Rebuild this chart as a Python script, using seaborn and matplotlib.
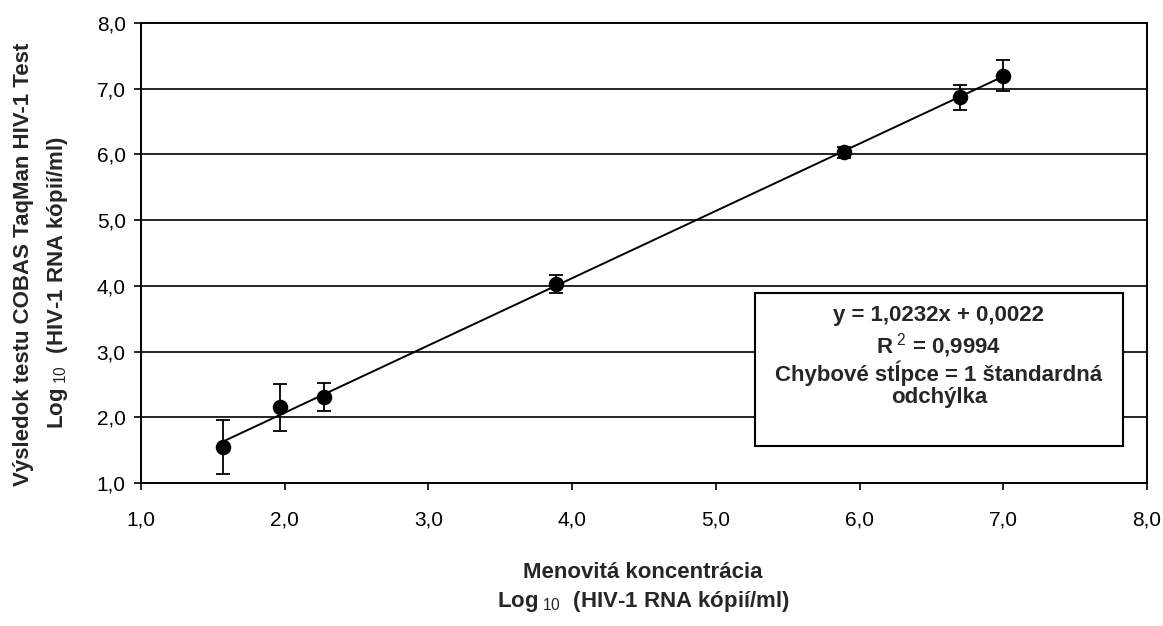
import matplotlib
matplotlib.use("Agg")
import matplotlib.pyplot as plt
import matplotlib.patches as mpatches
from matplotlib.ticker import FuncFormatter
import seaborn as sns
import pandas as pd

# ---- data ----
nominal = [1.57, 1.97, 2.27, 3.89, 5.89, 6.70, 7.00]
measured = [1.55, 2.15, 2.31, 4.03, 6.03, 6.87, 7.20]
sd = [0.41, 0.36, 0.21, 0.14, 0.09, 0.19, 0.23]
tick_values = [1, 2, 3, 4, 5, 6, 7, 8]

eq_text = "y = 1,0232x + 0,0022"
r2_text = r"R$^{\ 2}$ = 0,9994"
err_text1 = "Chybové stĺpce = 1 štandardná"
err_text2 = "odchýlka"
xlab1 = "Menovitá koncentrácia"
xlab2 = r"$\mathbf{Log}_{\ 10}\ $ (HIV-1 RNA kópií/ml)"
ylab1 = "Výsledok testu COBAS TaqMan HIV-1 Test"
ylab2 = r"$\mathbf{Log}_{\ 10}\ $ (HIV-1 RNA kópií/ml)"

df = pd.DataFrame({"nominal": nominal, "measured": measured, "sd": sd})

sns.set_style("white")
plt.rcParams["font.family"] = ["Liberation Sans", "DejaVu Sans"]
plt.rcParams["mathtext.fontset"] = "custom"
plt.rcParams["mathtext.rm"] = "Liberation Sans"
plt.rcParams["mathtext.bf"] = "Liberation Sans:bold"
plt.rcParams["mathtext.it"] = "Liberation Sans:italic"

W, H = 1163, 626
fig = plt.figure(figsize=(W / 100, H / 100), dpi=100)
L, R, T, B = 141, 1147, 23, 483
ax = fig.add_axes([L / W, 1 - B / H, (R - L) / W, (B - T) / H])

def fx(px):
    return px / W

def fy(py):
    return 1 - py / H

# grid lines
for v in tick_values[1:-1]:
    ax.axhline(v, color="black", lw=1.2, zorder=1)

# regression line
sns.regplot(data=df, x="nominal", y="measured", ax=ax, scatter=False, ci=None,
            truncate=True, line_kws={"color": "black", "lw": 1.4, "zorder": 3})

# error bars
ax.errorbar(df["nominal"], df["measured"], yerr=df["sd"], fmt="none",
            ecolor="black", elinewidth=1.3, capsize=5, capthick=1.3, zorder=4)

# points
sns.scatterplot(data=df, x="nominal", y="measured", ax=ax, color="black",
                s=125, edgecolor="black", linewidth=0, zorder=5, legend=False)

ax.set_xlim(1, 8)
ax.set_ylim(1, 8)
ax.set_xticks(tick_values)
ax.set_yticks(tick_values)
fmt = FuncFormatter(lambda v, p: f"{v:.1f}".replace(".", ","))
ax.xaxis.set_major_formatter(fmt)
ax.yaxis.set_major_formatter(fmt)
ax.tick_params(axis="x", direction="out", length=5, width=1.2, pad=15,
               labelsize=15, colors="black", bottom=True)
ax.tick_params(axis="y", direction="out", length=5, width=1.2, pad=6,
               labelsize=15, colors="black", left=True)
ax.set_xlabel("")
ax.set_ylabel("")
for s in ax.spines.values():
    s.set_visible(True)
    s.set_color("black")
    s.set_linewidth(1.4)

# text box
box = mpatches.Rectangle((fx(755), fy(446)), fx(1123) - fx(755), fy(293) - fy(446),
                         transform=fig.transFigure, facecolor="white",
                         edgecolor="black", lw=1.5, zorder=6, clip_on=False)
ax.add_patch(box)
cx = fx(939)
fs = 16
fig.text(cx, fy(315), eq_text, ha="center", va="center", fontsize=fs,
         fontweight="bold", zorder=7)
fig.text(cx, fy(346), r2_text, ha="center", va="center", fontsize=fs,
         fontweight="bold", zorder=7)
fig.text(cx, fy(373), err_text1, ha="center", va="center", fontsize=fs,
         fontweight="bold", zorder=7)
fig.text(cx, fy(398), err_text2, ha="center", va="center", fontsize=fs,
         fontweight="bold", zorder=7)

# axis labels
fig.text(fx(643), fy(573), xlab1, ha="center", va="center", fontsize=fs,
         fontweight="bold")
fig.text(fx(643), fy(602), xlab2, ha="center", va="center", fontsize=fs,
         fontweight="bold")
fig.text(fx(24), fy(264), ylab1, ha="center", va="center", rotation=90,
         fontsize=fs, fontweight="bold")
fig.text(fx(58), fy(283), ylab2, ha="center", va="center", rotation=90,
         fontsize=fs, fontweight="bold")

fig.savefig("out.png", dpi=100, facecolor="white")
